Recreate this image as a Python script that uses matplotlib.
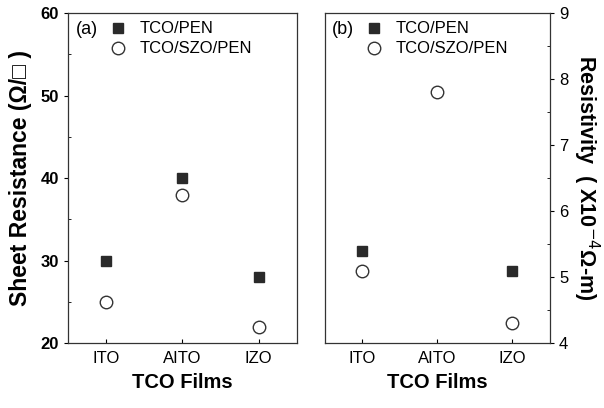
import numpy as np
import matplotlib
matplotlib.use('Agg')
import matplotlib.pyplot as plt
from matplotlib.ticker import MultipleLocator

plt.rcParams['font.family'] = ['Liberation Sans', 'DejaVu Sans']

films = ['ITO', 'AITO', 'IZO']
# (a) sheet resistance, ohm/sq
sheet_pen = [30, 40, 28]
sheet_szo = [25, 38, 22]
# (b) resistivity, x10^-4 ohm-m (no filled point visible for AITO)
rho_pen = [5.4, np.nan, 5.1]
rho_szo = [5.1, 7.8, 4.3]

fig = plt.figure(figsize=(6.04, 4.08), dpi=100)
ax1 = fig.add_axes([0.1126, 0.159, 0.379, 0.809])
ax2 = fig.add_axes([0.538, 0.159, 0.3725, 0.809])

x = np.arange(len(films))


def style_panel(ax, pen, szo):
    ax.plot(x, pen, 's', color='#2a2a2a', ms=7.5, label='TCO/PEN')
    ax.plot(x, szo, 'o', mfc='white', mec='#333333', mew=1.0, ms=9, label='TCO/SZO/PEN')
    ax.set_xlim(-0.5, 2.5)
    ax.set_xticks(x)
    ax.set_xticklabels(films, fontsize=12)
    ax.tick_params(axis='x', direction='in', length=3, width=0.8, pad=6)
    ax.set_xlabel('TCO Films', fontsize=14.5, fontweight='bold', labelpad=5)
    for s in ax.spines.values():
        s.set_linewidth(0.9)
        s.set_color('#333333')
    ax.legend(loc='upper left', bbox_to_anchor=(0.13, 1.01), frameon=False,
              fontsize=12, handletextpad=0.8, borderaxespad=0.3,
              labelspacing=0.3, handlelength=1.0)


style_panel(ax1, sheet_pen, sheet_szo)
ax1.set_ylim(20, 60)
ax1.yaxis.set_major_locator(MultipleLocator(10))
ax1.yaxis.set_minor_locator(MultipleLocator(5))
ax1.tick_params(axis='y', which='major', direction='out', length=3, labelsize=12)
ax1.tick_params(axis='y', which='minor', direction='in', length=2)
for t in ax1.get_yticklabels():
    t.set_fontweight('bold')
ax1.set_ylabel('Sheet Resistance (\u03a9/\u25a1 )', fontsize=16.5, fontweight='bold', labelpad=6)
ax1.text(0.035, 0.975, '(a)', transform=ax1.transAxes, fontsize=13, va='top')

style_panel(ax2, rho_pen, rho_szo)
ax2.set_ylim(4, 9)
ax2.yaxis.tick_right()
ax2.yaxis.set_major_locator(MultipleLocator(1))
ax2.yaxis.set_minor_locator(MultipleLocator(0.5))
ax2.tick_params(axis='y', which='major', direction='out', length=3, labelsize=12)
ax2.tick_params(axis='y', which='minor', direction='in', length=2)
ax2.text(1.16, 0.5, 'Resistivity  ( X10$^{-4}$\u03a9-m)', transform=ax2.transAxes,
         fontsize=15.5, fontweight='bold', rotation=-90, ha='center', va='center')
ax2.text(0.03, 0.975, '(b)', transform=ax2.transAxes, fontsize=13, va='top')

fig.savefig('out.png', dpi=100)
